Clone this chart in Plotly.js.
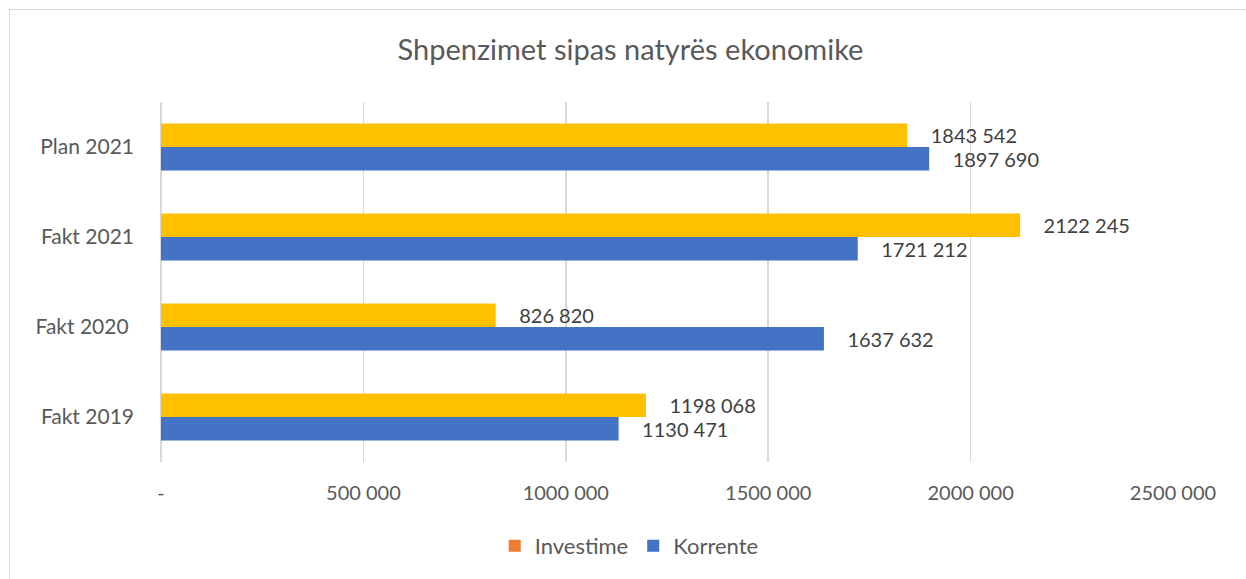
<!DOCTYPE html>
<html>
<head>
<meta charset="utf-8">
<script src="https://cdn.plot.ly/plotly-3.0.1.min.js"></script>
<style>
html,body{margin:0;padding:0;background:#fff;}
#wrap{position:relative;width:1246px;height:579px;overflow:hidden;}
#chart{width:1246px;height:579px;}
#frame{position:absolute;left:9px;top:9px;width:1260px;height:600px;border:1px solid #D9D9D9;pointer-events:none;}
</style>
</head>
<body>
<div id="wrap"><div id="chart"></div><div id="frame"></div></div>
<script>
// Data
const categories = ["Fakt 2019", "Fakt 2020\u00a0", "Fakt 2021", "Plan 2021"];
const korrente = [1130471, 1637632, 1721212, 1897690];
const investime = [1198068, 826820, 2122245, 1843542];
const tickValues = [0, 500000, 1000000, 1500000, 2000000, 2500000];
const tickLabels = ["-", "500 000", "1000 000", "1500 000", "2000 000", "2500 000"];

function fmt(v) {
  const th = Math.floor(v / 1000);
  const r = String(v % 1000).padStart(3, "0");
  return th + " " + r;
}
const pad = "\u00a0\u00a0\u00a0\u00a0";
const FONT = "Lato, 'Open Sans', sans-serif";

const labelFont = {family: FONT, size: 20, color: "#404040"};

const traces = [
  {
    type: "bar", orientation: "h", name: "Korrente",
    y: categories, x: korrente,
    text: korrente.map(v => pad + fmt(v)),
    textposition: "outside", textfont: labelFont, cliponaxis: false, constraintext: "none",
    marker: {color: "#4472C4"}, showlegend: false, hoverinfo: "x+y"
  },
  {
    type: "bar", orientation: "h", name: "Investime",
    y: categories, x: investime,
    text: investime.map(v => pad + fmt(v)),
    textposition: "outside", textfont: labelFont, cliponaxis: false, constraintext: "none",
    marker: {color: "#FFC000"}, showlegend: false, hoverinfo: "x+y"
  },
  {
    type: "scatter", mode: "markers", name: "Investime",
    x: [null], y: [null],
    marker: {symbol: "square", size: 12, color: "#ED7D31"}, showlegend: true
  },
  {
    type: "scatter", mode: "markers", name: "Korrente",
    x: [null], y: [null],
    marker: {symbol: "square", size: 12, color: "#4472C4"}, showlegend: true
  }
];

const layout = {
  width: 1246, height: 579,
  margin: {l: 161, r: 73, t: 102, b: 117},
  paper_bgcolor: "#fff", plot_bgcolor: "#fff",
  font: {family: FONT, color: "#595959", size: 18},
  title: {
    text: "Shpenzimet sipas natyrës ekonomike",
    font: {family: FONT, size: 29, color: "#595959"},
    xref: "container", yref: "container", x: 0.506, y: 0.914, xanchor: "center", yanchor: "middle"
  },
  barmode: "group", bargap: 0.48, bargroupgap: 0,
  xaxis: {
    range: [0, 2500000], tickmode: "array", tickvals: tickValues, ticktext: tickLabels,
    showgrid: true, gridcolor: "#D9D9D9", gridwidth: 1.5,
    zeroline: true, zerolinecolor: "#D9D9D9", zerolinewidth: 1.5,
    showline: false, ticks: "", ticklabelstandoff: 17,
    tickfont: {family: FONT, size: 20, color: "#595959"}, fixedrange: true
  },
  yaxis: {
    type: "category", showgrid: false, zeroline: false, showline: false,
    ticks: "", ticklabelstandoff: 26,
    tickfont: {family: FONT, size: 21, color: "#595959"}, fixedrange: true
  },
  legend: {
    orientation: "h", xref: "container", yref: "container",
    x: 0.505, y: 0.057, xanchor: "center", yanchor: "middle",
    font: {family: FONT, size: 22, color: "#595959"},
    itemwidth: 30, traceorder: "normal"
  },
  showlegend: true
};

Plotly.newPlot("chart", traces, layout, {displayModeBar: false, staticPlot: true});
</script>
</body>
</html>
